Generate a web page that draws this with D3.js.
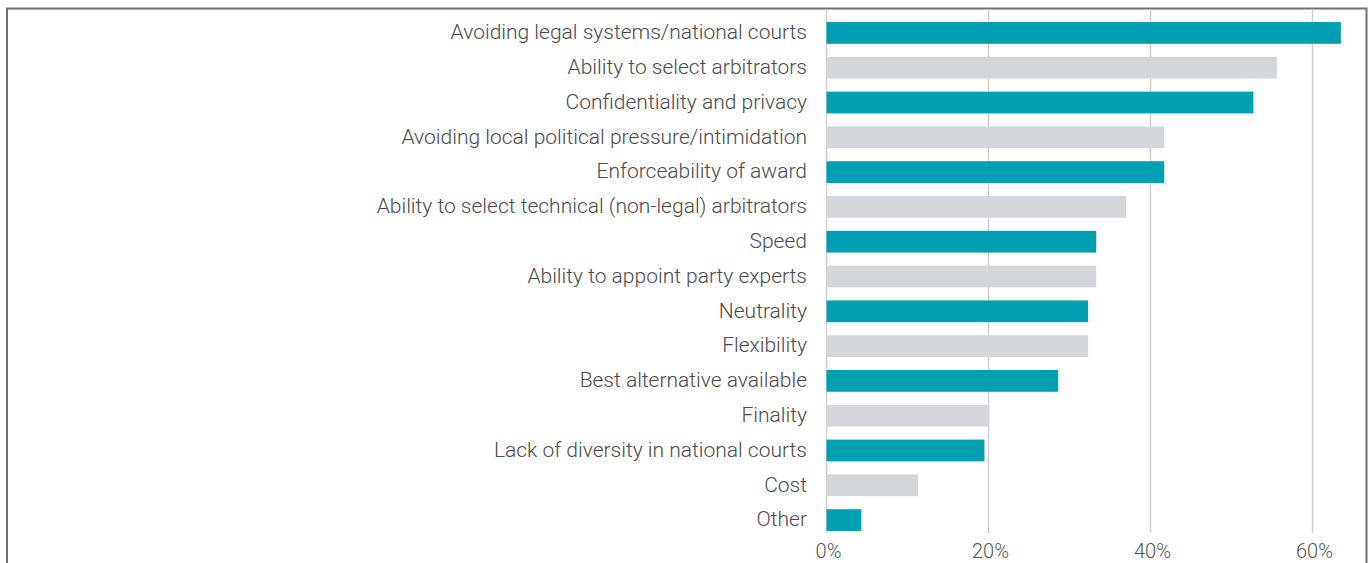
<!DOCTYPE html>
<html lang="en">
<head>
  <meta charset="UTF-8">
  <title>Reasons for choosing arbitration</title>
  <script src="https://d3js.org/d3.v7.min.js"></script>
  <style>
    body { margin: 0; background: #fff; }
    svg { display: block; }
    .label { font-family: Roboto, "Liberation Sans", sans-serif; font-weight: 300; font-size: 21px; fill: #4a4a4a; }
    .tick-label { font-family: Roboto, "Liberation Sans", sans-serif; font-weight: 300; font-size: 20px; fill: #555; }
    .grid { stroke: #cfcfcf; stroke-width: 1.5px; }
  </style>
</head>
<body>
  <svg width="1371" height="563"></svg>
  <script>
    const categories = [
      'Avoiding legal systems/national courts',
      'Ability to select arbitrators',
      'Confidentiality and privacy',
      'Avoiding local political pressure/intimidation',
      'Enforceability of award',
      'Ability to select technical (non-legal) arbitrators',
      'Speed',
      'Ability to appoint party experts',
      'Neutrality',
      'Flexibility',
      'Best alternative available',
      'Finality',
      'Lack of diversity in national courts',
      'Cost',
      'Other'
    ];
    const values = [63.5, 55.6, 52.7, 41.7, 41.7, 37.0, 33.3, 33.3, 32.3, 32.3, 28.6, 20.1, 19.5, 11.3, 4.3];
    const ticks = [0, 20, 40, 60];

    const svg = d3.select('svg');
    const teal = '#009fb2';
    const grey = '#d3d7db';

    const x = d3.scaleLinear().domain([0, 60]).range([826.5, 1312.5]);
    const y = d3.scaleBand().domain(categories).range([9, 544]).padding(0.375);

    // frame
    svg.append('rect')
      .attr('x', 7).attr('y', 8.5)
      .attr('width', 1359.5).attr('height', 600)
      .attr('fill', 'none').attr('stroke', '#707070').attr('stroke-width', 2);

    // grid lines
    svg.append('g').selectAll('line')
      .data(ticks)
      .join('line')
      .attr('class', 'grid')
      .attr('x1', d => x(d)).attr('x2', d => x(d))
      .attr('y1', 9.5).attr('y2', 533);

    // bars
    svg.append('g').selectAll('rect')
      .data(categories)
      .join('rect')
      .attr('x', x(0))
      .attr('y', d => y(d))
      .attr('width', (d, i) => x(values[i]) - x(0))
      .attr('height', y.bandwidth())
      .attr('fill', (d, i) => i % 2 === 0 ? teal : grey);

    // category labels
    svg.append('g').selectAll('text')
      .data(categories)
      .join('text')
      .attr('class', 'label')
      .attr('x', 807)
      .attr('y', d => y(d) + y.bandwidth() / 2 - 1)
      .attr('dy', '0.35em')
      .attr('text-anchor', 'end')
      .text(d => d);

    // tick labels
    svg.append('g').selectAll('text')
      .data(ticks)
      .join('text')
      .attr('class', 'tick-label')
      .attr('x', d => x(d) + 2)
      .attr('y', 551)
      .attr('dy', '0.35em')
      .attr('text-anchor', 'middle')
      .text(d => d + '%');
  </script>
</body>
</html>
